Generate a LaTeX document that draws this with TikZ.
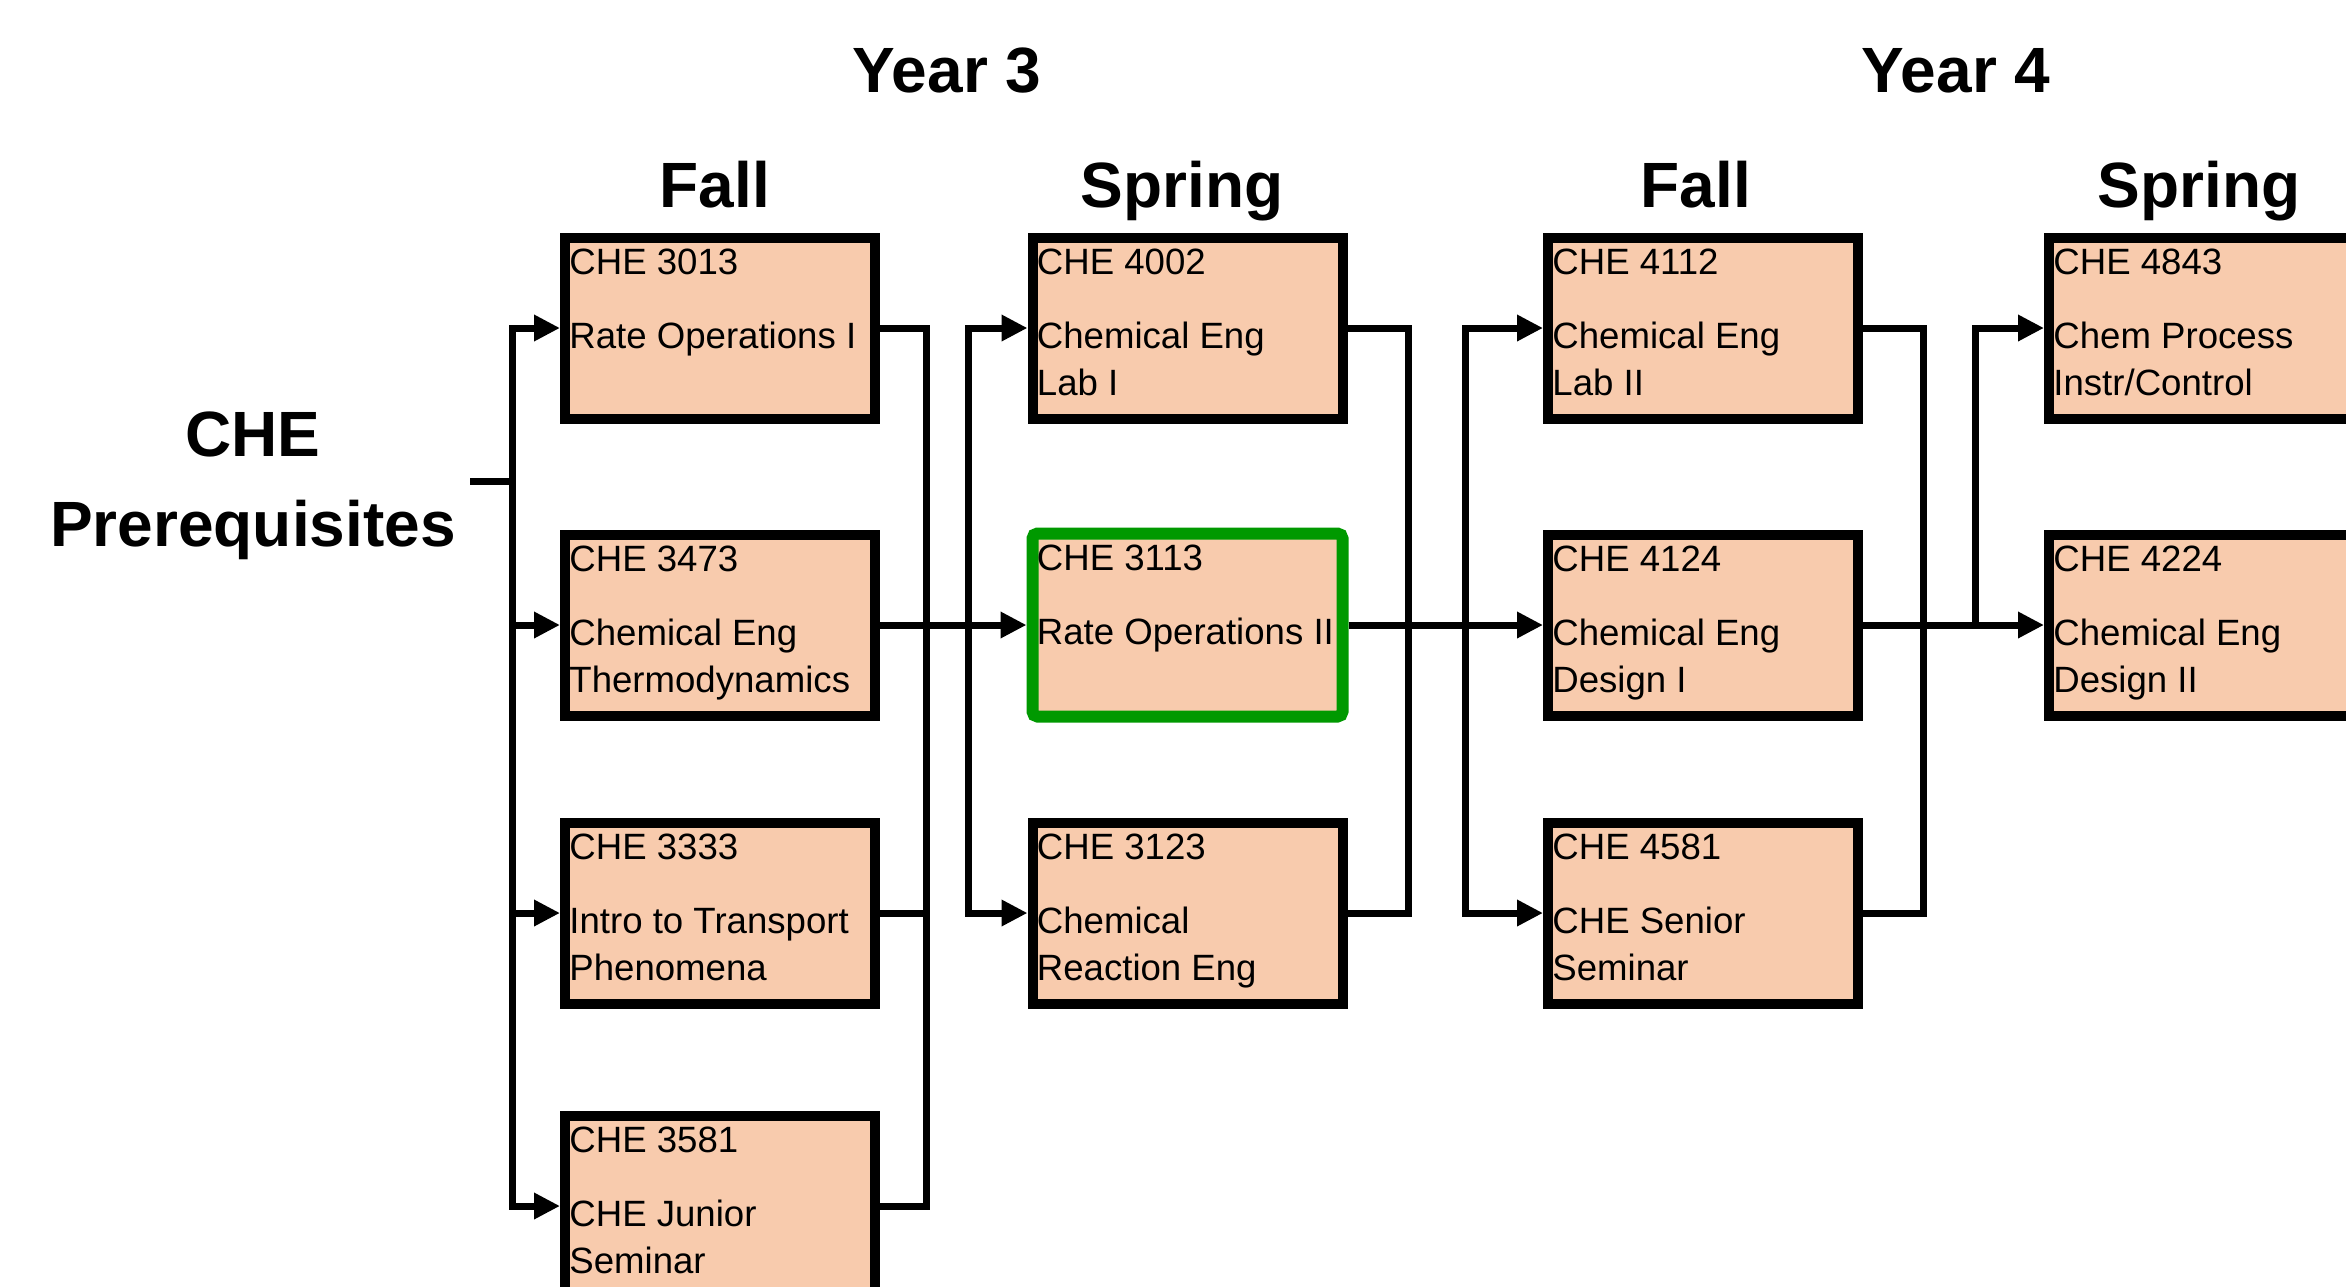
\documentclass[tikz,border=0pt]{standalone}
\usepackage{fontspec}
\setmainfont{Liberation Sans}
\usetikzlibrary{arrows.meta}
\definecolor{peach}{HTML}{F8CBAD}
\definecolor{hgreen}{HTML}{009900}
\tikzset{
  course/.style={draw=black, line width=5pt, fill=peach, minimum width=155pt, minimum height=90.5pt, inner sep=0pt},
  hilite/.style={course, draw=hgreen, line width=6pt, rounded corners=2.5pt, minimum height=91.5pt},
  ctext/.style={anchor=north west, align=left, inner sep=0pt, font=\fontsize{18.3}{23.5}\selectfont},
  head/.style={anchor=base, inner sep=0pt, font=\bfseries\fontsize{32}{45}\selectfont},
  conn/.style={line width=3.5pt},
  tip/.style={conn, -{Triangle[length=13pt,width=12.5pt]}},
  tips/.style={conn, {Triangle[length=13pt,width=12.5pt]}-{Triangle[length=13pt,width=12.5pt]}},
  tipstart/.style={conn, {Triangle[length=13pt,width=12.5pt]}-},
}
\begin{document}
\begin{tikzpicture}[x=0.5pt, y=-0.5pt]
\useasboundingbox (0,0) rectangle (2346,1286);
\fill[white] (0,0) rectangle (2346,1286);
\clip (0,0) rectangle (2346,1286);

% headings
\node[head] (y3) at (947,92) {Year 3};
\node[head] (y4) at (1956,92) {Year 4};
\node[head] (h1) at (715,207) {Fall};
\node[head] (h2) at (1182,207) {Spring};
\node[head] (h3) at (1696,207) {Fall};
\node[head] (h4) at (2199,207) {Spring};
\node[head, anchor=north, align=center] (pre) at (253,411) {CHE\\Prerequisites};

% Year 3 Fall
\node[course] (a1) at (720,328) {};
\node[ctext] (a1t) at ([shift={(9,16)}]a1.north west) {CHE 3013\\[13.5pt]Rate Operations I};
\node[course] (a2) at (720,625) {};
\node[ctext] (a2t) at ([shift={(9,16)}]a2.north west) {CHE 3473\\[13.5pt]Chemical Eng\\Thermodynamics};
\node[course] (a3) at (720,913) {};
\node[ctext] (a3t) at ([shift={(9,16)}]a3.north west) {CHE 3333\\[13.5pt]Intro to Transport\\Phenomena};
\node[course] (a4) at (720,1206) {};
\node[ctext] (a4t) at ([shift={(9,16)}]a4.north west) {CHE 3581\\[13.5pt]CHE Junior\\Seminar};

% Year 3 Spring
\node[course] (s1) at (1187.5,328) {};
\node[ctext] (s1t) at ([shift={(9,16)}]s1.north west) {CHE 4002\\[13.5pt]Chemical Eng\\Lab I};
\node[hilite] (s2) at (1187.5,625) {};
\node[ctext] (s2t) at ([shift={(10,17)}]s2.north west) {CHE 3113\\[13.5pt]Rate Operations II};
\node[course] (s3) at (1187.5,913) {};
\node[ctext] (s3t) at ([shift={(9,16)}]s3.north west) {CHE 3123\\[13.5pt]Chemical\\Reaction Eng};

% Year 4 Fall
\node[course] (f1) at (1703,328) {};
\node[ctext] (f1t) at ([shift={(9,16)}]f1.north west) {CHE 4112\\[13.5pt]Chemical Eng\\Lab II};
\node[course] (f2) at (1703,625) {};
\node[ctext] (f2t) at ([shift={(9,16)}]f2.north west) {CHE 4124\\[13.5pt]Chemical Eng\\Design I};
\node[course] (f3) at (1703,913) {};
\node[ctext] (f3t) at ([shift={(9,16)}]f3.north west) {CHE 4581\\[13.5pt]CHE Senior\\Seminar};

% Year 4 Spring
\node[course] (p1) at (2204,328) {};
\node[ctext] (p1t) at ([shift={(9,16)}]p1.north west) {CHE 4843\\[13.5pt]Chem Process\\Instr/Control};
\node[course] (p2) at (2204,625) {};
\node[ctext] (p2t) at ([shift={(9,16)}]p2.north west) {CHE 4224\\[13.5pt]Chemical Eng\\Design II};

% bus positions
\coordinate (stem) at (470,481);
\coordinate (bA) at (512,0);
\coordinate (bB) at (926,0);
\coordinate (bC) at (968,0);
\coordinate (bD) at (1408,0);
\coordinate (bE) at (1465,0);
\coordinate (bF) at (1923,0);
\coordinate (bG) at (1975,0);

% connectors
\draw[conn] (stem) -- (stem -| bA);
\draw[tips] (a1.west) -| (a4.west -| bA) -- (a4.west);
\draw[tip] (a2.west -| bA) -- (a2.west);
\draw[tip] (a3.west -| bA) -- (a3.west);
\draw[conn] (a1.east) -| (a4.east -| bB) -- (a4.east);
\draw[conn] (a3.east) -- (a3.east -| bB);
\draw[tip] (a2.east) -- (s2.west);

\draw[tips] (s1.west) -| (s3.west -| bC) -- (s3.west);
\draw[conn] (s1.east) -| (s3.east -| bD) -- (s3.east);
\draw[tip] (s2.east) -- (f2.west);

\draw[tips] (f1.west) -| (f3.west -| bE) -- (f3.west);
\draw[conn] (f1.east) -| (f3.east -| bF) -- (f3.east);
\draw[tip] (f2.east) -- (p2.west);

\draw[tipstart] (p1.west) -| (p2.west -| bG);
\end{tikzpicture}
\end{document}
